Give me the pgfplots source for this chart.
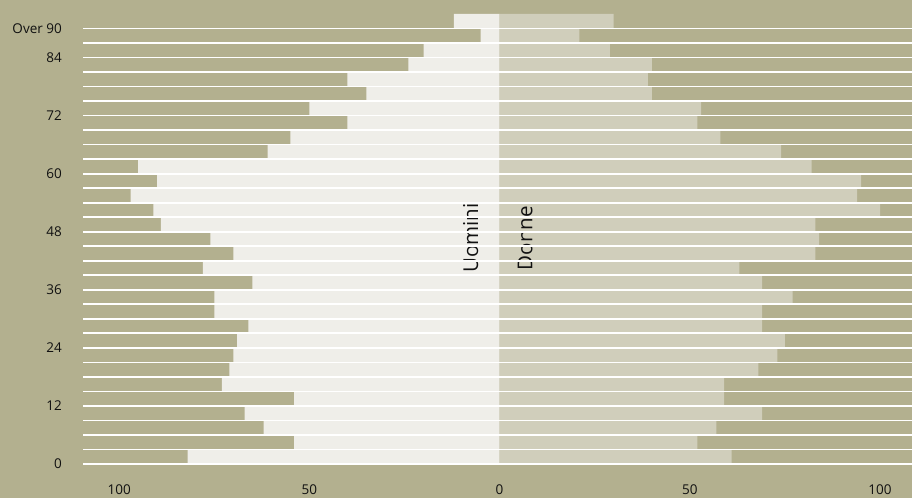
\documentclass[border=0pt]{standalone}
\usepackage{pgfplots}
\pgfplotsset{compat=1.18}
\usepackage{pgfplotstable}
\usepackage{fontspec}
\setmainfont{Open Sans}
\definecolor{bg}{HTML}{B3B08F}
\definecolor{men}{HTML}{EFEEE9}
\definecolor{women}{HTML}{D0CEBB}
\definecolor{txt}{HTML}{111111}

\pgfplotstableread{
y    men women
1.5  82  61
4.5  54  52
7.5  62  57
10.5 67  69
13.5 54  59
16.5 73  59
19.5 71  68
22.5 70  73
25.5 69  75
28.5 66  69
31.5 75  69
34.5 75  77
37.5 65  69
40.5 78  63
43.5 70  83
46.5 76  84
49.5 89  83
52.5 91  100
55.5 97  94
58.5 90  95
61.5 95  82
64.5 61  74
67.5 55  58
70.5 40  52
73.5 50  53
76.5 35  40
79.5 40  39
82.5 24  40
85.5 20  29
88.5 5   21
91.5 12  30
}\data

\begin{document}
\begin{tikzpicture}
\fill[bg] (0,0) rectangle (912bp,498bp);
\begin{axis}[
  at={(83bp,29.2bp)}, anchor=south west,
  scale only axis, width=829bp, height=454.8bp,
  xmin=-109.5, xmax=108.4, ymin=-1, ymax=93,
  xbar, bar width=3,
  axis on top,
  axis line style={draw=none},
  major tick length=0pt,
  tick style={draw=none},
  xtick={-100,-50,0,50,100},
  xticklabels={100,50,0,50,100},
  ytick={0,3,...,90},
  yticklabels={0,,,,12,,,,24,,,,36,,,,48,,,,60,,,,72,,,,84,,Over 90},
  ymajorgrids,
  grid style={white, line width=1.7bp},
  tick label style={font=\fontsize{13.5bp}{16bp}\selectfont, text=txt},
  xticklabel style={anchor=north, inner sep=0pt, yshift=-15.5bp},
  yticklabel style={anchor=east, inner sep=0pt, xshift=-21bp},
]
\addplot[fill=men, draw=none, bar shift=0pt] table[x expr=-\thisrow{men}, y=y] {\data};
\addplot[fill=women, draw=none, bar shift=0pt] table[x=women, y=y] {\data};
\node[rotate=90, inner sep=0pt, text=txt, font=\fontsize{20.5bp}{24bp}\selectfont] at (axis cs:-7.6,46.7) {Uomini};
\node[rotate=90, inner sep=0pt, text=txt, font=\fontsize{20.5bp}{24bp}\selectfont] at (axis cs:6.7,46.7) {Donne};
\end{axis}
\pgfresetboundingbox
\useasboundingbox (0,0) rectangle (912bp,498bp);
\end{tikzpicture}
\end{document}
